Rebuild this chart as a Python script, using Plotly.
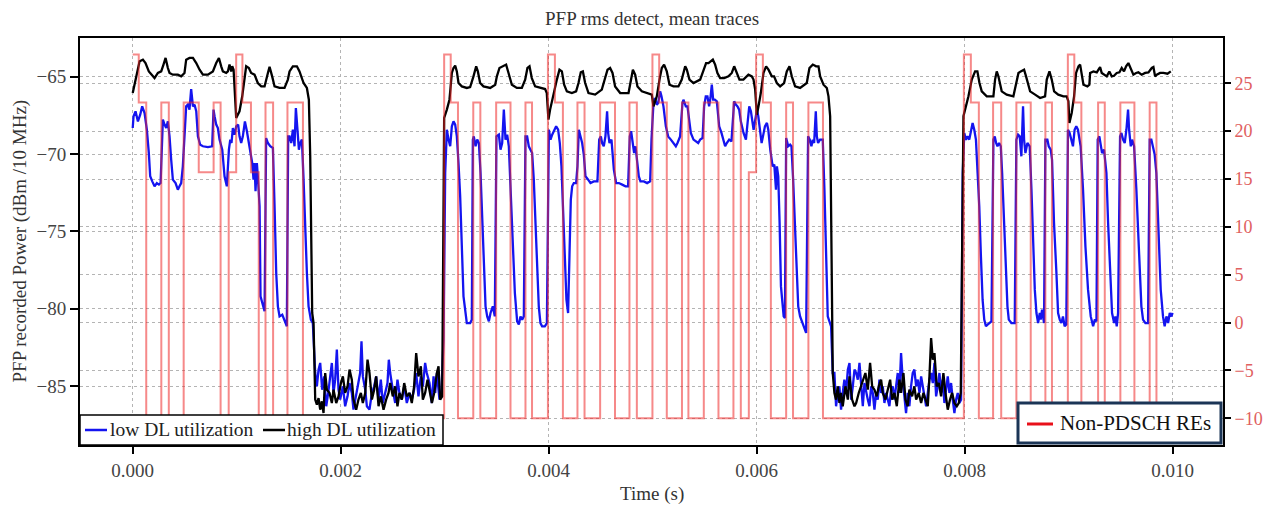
import plotly.graph_objects as go

# Time stamps are in milliseconds, power in dBm / 10 MHz.
low_dl = [
    (0.000, -68.32), (0.008, -67.56), (0.027, -67.24), (0.050, -67.89), (0.072, -67.46), (0.091, -66.92),
    (0.114, -67.35), (0.136, -68.43), (0.155, -69.94), (0.168, -71.44), (0.188, -71.77), (0.210, -72.09),
    (0.232, -71.88), (0.252, -71.98), (0.268, -71.88), (0.280, -68.86), (0.290, -67.78), (0.306, -68.10),
    (0.322, -68.32), (0.338, -67.89), (0.354, -68.86), (0.370, -70.37), (0.386, -71.66), (0.412, -71.88),
    (0.434, -72.31), (0.450, -72.09), (0.466, -71.88), (0.482, -70.80), (0.502, -68.21), (0.514, -66.92),
    (0.530, -66.81), (0.546, -67.13), (0.562, -65.80), (0.579, -66.92), (0.595, -66.81), (0.611, -67.24),
    (0.627, -68.86), (0.649, -69.40), (0.675, -69.50), (0.723, -69.55), (0.764, -69.50), (0.777, -67.13),
    (0.787, -67.56), (0.803, -68.10), (0.819, -68.32), (0.835, -69.07), (0.861, -69.72), (0.883, -71.44),
    (0.905, -72.09), (0.925, -69.72), (0.938, -69.07), (0.950, -69.29), (0.963, -68.32), (0.979, -68.75),
    (0.995, -68.21), (1.014, -68.10), (1.027, -68.86), (1.043, -69.29), (1.059, -68.86), (1.079, -67.89),
    (1.098, -68.53), (1.123, -69.61), (1.149, -70.58), (1.162, -71.66), (1.171, -70.58), (1.181, -72.41),
    (1.194, -70.58), (1.203, -71.44), (1.220, -73.38), (1.229, -79.20), (1.252, -79.85), (1.268, -80.17),
    (1.283, -68.97), (1.300, -69.29), (1.322, -69.50), (1.348, -69.61), (1.364, -73.38), (1.380, -77.69),
    (1.396, -79.85), (1.412, -80.50), (1.438, -80.39), (1.460, -80.71), (1.482, -81.14), (1.495, -68.86),
    (1.508, -68.86), (1.524, -69.29), (1.540, -68.43), (1.556, -69.50), (1.569, -67.03), (1.582, -68.21),
    (1.598, -69.72), (1.611, -69.29), (1.627, -69.07), (1.643, -71.66), (1.659, -75.11), (1.675, -77.69),
    (1.691, -79.85), (1.713, -80.71), (1.732, -80.93), (1.755, -84.16), (1.771, -85.02),
    (1.787, -83.94), (1.803, -83.51), (1.822, -85.24), (1.841, -84.38), (1.861, -86.31), (1.880, -85.45),
    (1.899, -84.16), (1.915, -83.51), (1.931, -85.45), (1.947, -84.59), (1.963, -82.65), (1.979, -85.24),
    (1.995, -85.88), (2.021, -85.02), (2.043, -86.31), (2.066, -85.67), (2.085, -84.81), (2.107, -85.45),
    (2.123, -86.53), (2.149, -85.45), (2.171, -84.59), (2.187, -84.16), (2.200, -82.11), (2.213, -84.38),
    (2.236, -85.24), (2.252, -86.31), (2.277, -86.53), (2.300, -85.45), (2.322, -85.02), (2.341, -84.38),
    (2.364, -85.88), (2.386, -84.59), (2.405, -86.10), (2.428, -85.45), (2.450, -84.81), (2.463, -83.30),
    (2.476, -84.16), (2.501, -85.24), (2.524, -86.10), (2.546, -84.59), (2.565, -85.45), (2.588, -85.88),
    (2.611, -85.02), (2.636, -86.10), (2.662, -85.45), (2.684, -85.88), (2.706, -85.24), (2.726, -84.16),
    (2.748, -85.67), (2.771, -84.38), (2.790, -85.02), (2.812, -83.51), (2.828, -84.16), (2.854, -84.81),
    (2.877, -86.10), (2.893, -84.38), (2.909, -85.45), (2.925, -84.16), (2.950, -85.88), (2.970, -85.24),
    (2.989, -82.00), (3.005, -71.23), (3.021, -68.43), (3.037, -69.07), (3.053, -69.50), (3.069, -68.21),
    (3.085, -67.89), (3.101, -68.10), (3.117, -68.86), (3.133, -70.58), (3.149, -72.74), (3.165, -75.97),
    (3.181, -79.20), (3.213, -80.93), (3.245, -80.93), (3.261, -80.71),
    (3.271, -69.07), (3.280, -68.86), (3.297, -69.50), (3.313, -69.07), (3.329, -69.29), (3.345, -71.23),
    (3.361, -74.46), (3.377, -77.69), (3.393, -79.85), (3.409, -80.50), (3.425, -80.82), (3.441, -80.28),
    (3.463, -79.85), (3.482, -80.50), (3.498, -68.86), (3.521, -68.75), (3.537, -69.72), (3.553, -69.29),
    (3.569, -67.13), (3.585, -69.07), (3.601, -68.75), (3.617, -69.50), (3.633, -72.31), (3.649, -75.54),
    (3.675, -78.99), (3.697, -80.82), (3.713, -81.03), (3.729, -80.50), (3.745, -80.71), (3.761, -80.50),
    (3.777, -68.86), (3.793, -68.86), (3.809, -69.50), (3.825, -69.72), (3.841, -69.94), (3.857, -71.66),
    (3.873, -74.68), (3.889, -77.69), (3.905, -79.85), (3.921, -80.93), (3.937, -81.14), (3.963, -81.14),
    (3.983, -80.93), (4.002, -68.43), (4.018, -69.07), (4.034, -68.75), (4.050, -68.53), (4.072, -68.21),
    (4.091, -68.43), (4.107, -69.29), (4.123, -70.80), (4.139, -73.38), (4.155, -76.62), (4.171, -79.42),
    (4.187, -80.28), (4.200, -75.97), (4.213, -72.95), (4.226, -72.09), (4.242, -71.88), (4.264, -71.88),
    (4.277, -70.80), (4.290, -68.43), (4.306, -68.86), (4.322, -69.29), (4.338, -70.04), (4.354, -71.44),
    (4.380, -71.66), (4.402, -71.88), (4.434, -71.77), (4.469, -71.77), (4.486, -69.07), (4.502, -68.86),
    (4.514, -69.29), (4.530, -69.50), (4.546, -68.86), (4.562, -67.24), (4.572, -68.64), (4.585, -69.29),
    (4.604, -69.07), (4.627, -71.01), (4.649, -71.88), (4.675, -71.88), (4.707, -71.98), (4.739, -72.09),
    (4.764, -72.09), (4.780, -68.86), (4.793, -68.53), (4.806, -69.07), (4.822, -69.94), (4.835, -69.50),
    (4.851, -70.37), (4.867, -71.44), (4.883, -71.77), (4.915, -71.77), (4.947, -71.88), (4.976, -71.77),
    (4.989, -69.07), (5.008, -66.70), (5.021, -66.38), (5.040, -66.81), (5.053, -66.70), (5.072, -65.95),
    (5.085, -66.27), (5.104, -66.92), (5.127, -68.21), (5.149, -68.86), (5.175, -69.07), (5.200, -69.29),
    (5.223, -69.50), (5.239, -69.29), (5.264, -68.86), (5.287, -66.70), (5.296, -66.49), (5.319, -66.92),
    (5.335, -66.92), (5.351, -67.78), (5.367, -68.64), (5.393, -69.07), (5.415, -69.18), (5.438, -69.29),
    (5.457, -69.07), (5.480, -68.97), (5.495, -66.92), (5.511, -66.27), (5.527, -66.27), (5.543, -66.92),
    (5.556, -66.38), (5.569, -65.52), (5.582, -66.49), (5.598, -66.49), (5.617, -66.59), (5.640, -68.21),
    (5.662, -68.64), (5.681, -69.07), (5.697, -69.50), (5.713, -69.29), (5.736, -69.07), (5.758, -69.18),
    (5.784, -66.59), (5.800, -66.81), (5.816, -66.92), (5.832, -67.13), (5.848, -67.89), (5.874, -68.64),
    (5.897, -69.07), (5.913, -67.99), (5.929, -66.92), (5.945, -67.24), (5.962, -67.99), (5.971, -68.43),
    (5.987, -67.78), (6.003, -67.13), (6.016, -67.56), (6.035, -68.43), (6.048, -69.29), (6.061, -68.86),
    (6.080, -68.21), (6.099, -67.99), (6.112, -68.43), (6.131, -69.72), (6.154, -70.80), (6.170, -70.69),
    (6.186, -72.31), (6.195, -70.80), (6.208, -71.44), (6.221, -74.46), (6.234, -78.56), (6.260, -80.50),
    (6.272, -80.60), (6.284, -68.97), (6.304, -69.50), (6.322, -69.40), (6.335, -69.50), (6.351, -71.66),
    (6.377, -75.54), (6.400, -79.85), (6.418, -80.50), (6.441, -80.93), (6.457, -81.14), (6.476, -81.57),
    (6.495, -68.86), (6.511, -69.07), (6.527, -69.50), (6.540, -69.07), (6.553, -69.29), (6.569, -67.24),
    (6.579, -68.86), (6.591, -69.29), (6.610, -69.07), (6.636, -69.07), (6.652, -72.31), (6.668, -76.62),
    (6.684, -80.50), (6.700, -80.82), (6.716, -81.14), (6.732, -84.16),
    (6.748, -84.16), (6.764, -86.31), (6.780, -85.45), (6.796, -85.02), (6.812, -86.53), (6.828, -85.45),
    (6.844, -84.59), (6.860, -85.45), (6.877, -83.94), (6.893, -83.51), (6.909, -85.88), (6.925, -85.02),
    (6.941, -83.94), (6.957, -84.16), (6.973, -84.59), (6.989, -83.51), (7.005, -85.24), (7.021, -86.31),
    (7.037, -84.81), (7.053, -85.45), (7.069, -85.88), (7.085, -86.31), (7.101, -85.02), (7.117, -85.45),
    (7.133, -86.53), (7.149, -85.45), (7.165, -85.88), (7.181, -84.59), (7.197, -85.45), (7.213, -85.02),
    (7.229, -86.10), (7.245, -85.45), (7.261, -85.88), (7.277, -86.31), (7.293, -85.24), (7.309, -85.02),
    (7.325, -85.88), (7.341, -84.81), (7.357, -84.16), (7.373, -85.45), (7.389, -82.87), (7.405, -84.59),
    (7.421, -85.88), (7.437, -86.75), (7.453, -85.45), (7.469, -86.31), (7.485, -85.02), (7.501, -84.16),
    (7.517, -83.94), (7.534, -85.02), (7.550, -84.59), (7.566, -85.45), (7.582, -84.38), (7.598, -85.02),
    (7.614, -85.88), (7.630, -86.31), (7.646, -85.45), (7.662, -84.59), (7.678, -84.16), (7.694, -84.81),
    (7.710, -83.51), (7.726, -85.67), (7.742, -85.02), (7.758, -84.16), (7.774, -85.45), (7.790, -84.59),
    (7.806, -86.10), (7.822, -85.02), (7.838, -84.38), (7.854, -85.45), (7.870, -84.81), (7.886, -85.88),
    (7.902, -86.75), (7.918, -85.88), (7.934, -85.45), (7.950, -86.10), (7.966, -85.88),
    (7.982, -71.23), (7.997, -68.64), (8.013, -69.07), (8.029, -68.86), (8.045, -69.07), (8.061, -68.43),
    (8.077, -67.99), (8.093, -68.43), (8.109, -69.07), (8.125, -71.23), (8.141, -73.38), (8.157, -76.62),
    (8.173, -79.42), (8.189, -80.71), (8.205, -81.14), (8.221, -81.03), (8.237, -80.93), (8.258, -80.82),
    (8.277, -69.07), (8.290, -68.86), (8.303, -69.29), (8.316, -69.50), (8.332, -69.29), (8.348, -69.50),
    (8.361, -71.23), (8.380, -74.46), (8.393, -77.69), (8.412, -79.85), (8.425, -80.71), (8.450, -80.93),
    (8.482, -80.93), (8.498, -69.07), (8.514, -68.75), (8.530, -68.86), (8.546, -70.15), (8.562, -66.92),
    (8.572, -69.07), (8.585, -69.94), (8.604, -69.29), (8.626, -69.50), (8.643, -72.31), (8.659, -75.54),
    (8.675, -78.77), (8.691, -80.28), (8.707, -80.93), (8.723, -80.28), (8.732, -80.71), (8.745, -80.06),
    (8.764, -80.93), (8.777, -69.07), (8.796, -69.07), (8.809, -69.50), (8.828, -69.72), (8.841, -70.37),
    (8.860, -74.46), (8.883, -77.69), (8.899, -80.28), (8.915, -80.71), (8.931, -80.93), (8.946, -80.50),
    (8.962, -81.14), (8.978, -81.03), (8.994, -68.43), (9.010, -68.64), (9.026, -69.07), (9.042, -69.50),
    (9.058, -68.43), (9.074, -68.21), (9.090, -68.43), (9.116, -69.50), (9.139, -72.31), (9.162, -75.97),
    (9.187, -78.77), (9.213, -80.50), (9.236, -81.14), (9.252, -80.71), (9.268, -80.82), (9.280, -69.07),
    (9.296, -68.86), (9.309, -69.50), (9.322, -69.94), (9.341, -69.72), (9.364, -71.23), (9.380, -74.46),
    (9.405, -78.77), (9.418, -80.28), (9.438, -80.93), (9.450, -80.50), (9.463, -81.14), (9.476, -80.28),
    (9.495, -68.86), (9.508, -68.64), (9.524, -69.07), (9.540, -69.29), (9.556, -68.43), (9.572, -67.13),
    (9.582, -68.43), (9.598, -69.50), (9.611, -69.07), (9.630, -69.50), (9.652, -72.31), (9.675, -75.97),
    (9.700, -79.85), (9.716, -80.71), (9.739, -80.93), (9.764, -80.93), (9.780, -69.07), (9.796, -69.07),
    (9.812, -69.50), (9.828, -70.04), (9.844, -71.23), (9.860, -74.46), (9.886, -78.77), (9.908, -80.50),
    (9.924, -81.14), (9.941, -80.50), (9.957, -80.93), (9.973, -80.28), (9.989, -80.50), (10.000, -80.28),
]

high_dl = [
    (0.000, -66.06), (0.066, -64.01), (0.098, -63.90), (0.123, -64.12), (0.155, -64.66), (0.178, -64.87),
    (0.210, -65.09), (0.242, -64.76), (0.274, -64.66), (0.296, -64.22), (0.316, -63.79), (0.338, -64.44),
    (0.354, -64.76), (0.386, -64.87), (0.434, -64.87), (0.466, -64.98), (0.498, -64.76), (0.514, -63.90),
    (0.546, -63.79), (0.579, -63.79), (0.611, -64.12), (0.643, -64.55), (0.675, -64.87), (0.723, -64.87),
    (0.771, -64.66), (0.803, -64.12), (0.829, -63.79), (0.851, -64.33), (0.867, -64.66), (0.899, -64.76),
    (0.915, -64.66), (0.931, -64.22), (0.947, -64.66), (0.957, -64.33), (0.970, -64.55), (0.995, -67.67),
    (1.027, -67.24), (1.053, -66.27), (1.075, -64.98), (1.091, -64.33), (1.117, -64.44), (1.139, -64.76),
    (1.171, -64.87), (1.203, -65.41), (1.236, -65.63), (1.268, -65.63), (1.300, -64.76), (1.316, -64.37),
    (1.341, -64.98), (1.364, -65.63), (1.412, -65.73), (1.460, -65.73), (1.492, -65.19), (1.508, -64.66),
    (1.540, -64.33), (1.579, -64.33), (1.604, -64.66), (1.643, -65.41), (1.675, -65.73), (1.694, -66.49),
    (1.707, -70.15), (1.716, -75.54), (1.726, -80.28), (1.739, -80.93), (1.755, -85.88), (1.771, -86.21),
    (1.787, -85.78), (1.803, -86.53), (1.819, -85.99), (1.835, -86.75), (1.851, -84.16), (1.867, -85.24),
    (1.893, -85.45), (1.915, -86.10), (1.931, -85.24), (1.957, -86.10), (1.979, -85.67), (2.002, -84.81),
    (2.021, -84.38), (2.043, -85.45), (2.066, -85.02), (2.085, -83.94), (2.107, -84.59), (2.123, -85.88),
    (2.149, -86.53), (2.171, -85.88), (2.194, -85.45), (2.213, -86.10), (2.236, -85.45), (2.258, -83.30),
    (2.277, -84.16), (2.300, -85.88), (2.322, -85.24), (2.341, -84.38), (2.364, -86.31), (2.386, -85.67),
    (2.412, -86.53), (2.437, -85.88), (2.460, -85.45), (2.476, -84.81), (2.501, -85.67), (2.524, -85.02),
    (2.546, -86.31), (2.565, -85.45), (2.588, -85.88), (2.611, -84.81), (2.636, -85.67), (2.662, -85.45),
    (2.684, -86.10), (2.706, -85.02), (2.726, -82.87), (2.748, -84.38), (2.771, -83.73), (2.790, -85.88),
    (2.812, -85.45), (2.835, -84.59), (2.854, -85.24), (2.877, -86.10), (2.899, -85.45), (2.925, -84.16),
    (2.941, -83.73), (2.957, -85.88), (2.976, -85.67),
    (2.995, -67.67), (3.021, -67.13), (3.046, -66.49), (3.069, -64.76), (3.085, -64.44), (3.101, -64.29),
    (3.117, -64.66), (3.133, -65.41), (3.165, -65.63), (3.213, -65.73), (3.245, -65.67), (3.277, -64.98),
    (3.303, -64.33), (3.319, -64.66), (3.341, -65.41), (3.373, -65.63), (3.438, -65.73), (3.486, -65.52),
    (3.502, -64.98), (3.527, -64.44), (3.566, -64.29), (3.591, -64.22), (3.614, -64.76), (3.646, -65.52),
    (3.694, -65.73), (3.742, -65.73), (3.774, -65.19), (3.796, -64.44), (3.816, -64.33), (3.838, -65.09),
    (3.870, -65.63), (3.918, -65.73), (3.966, -65.80), (3.982, -66.06), (3.998, -67.78), (4.014, -67.13),
    (4.046, -66.06), (4.079, -65.19), (4.104, -64.55), (4.127, -64.66), (4.149, -65.52), (4.175, -65.95),
    (4.223, -66.06), (4.264, -65.95), (4.287, -65.41), (4.309, -64.72), (4.329, -64.66), (4.351, -65.41),
    (4.383, -66.06), (4.447, -66.16), (4.511, -65.84), (4.543, -64.98), (4.566, -64.55), (4.591, -64.44),
    (4.614, -64.76), (4.639, -65.63), (4.688, -66.06), (4.768, -66.06), (4.790, -65.19), (4.810, -64.55),
    (4.832, -64.87), (4.854, -65.63), (4.896, -65.95), (4.944, -66.06), (4.992, -66.16), (5.008, -66.92),
    (5.040, -66.27), (5.066, -65.19), (5.088, -64.44), (5.110, -64.22), (5.136, -64.66), (5.162, -65.52),
    (5.200, -65.63), (5.248, -65.63), (5.280, -65.19), (5.313, -64.33), (5.329, -64.55), (5.354, -65.19),
    (5.393, -65.41), (5.457, -65.19), (5.489, -64.66), (5.514, -64.12), (5.537, -64.12), (5.559, -64.01),
    (5.579, -63.90), (5.601, -64.22), (5.623, -64.76), (5.649, -65.09), (5.688, -65.09), (5.729, -64.98),
    (5.761, -64.76), (5.784, -64.33), (5.803, -64.66), (5.835, -65.19), (5.873, -65.19), (5.921, -64.87),
    (5.954, -64.98), (5.970, -65.19), (5.986, -65.84), (6.002, -67.46), (6.018, -66.92), (6.040, -66.06),
    (6.066, -64.76), (6.091, -64.33), (6.114, -64.55), (6.146, -64.98), (6.168, -64.98), (6.194, -65.41),
    (6.226, -65.63), (6.264, -65.41), (6.290, -64.66), (6.316, -64.33), (6.338, -64.98), (6.370, -65.63),
    (6.418, -65.73), (6.482, -65.41), (6.508, -64.44), (6.540, -64.22), (6.572, -64.33), (6.595, -64.33),
    (6.611, -64.98), (6.643, -65.52), (6.675, -65.73), (6.691, -66.27), (6.707, -67.56), (6.716, -75.54),
    (6.726, -81.14), (6.732, -84.16), (6.748, -85.45), (6.764, -85.88), (6.780, -85.02), (6.796, -86.10),
    (6.812, -85.45), (6.828, -86.31), (6.854, -85.02), (6.877, -85.88), (6.893, -84.38), (6.918, -85.88),
    (6.941, -86.31), (6.957, -86.10), (6.982, -85.45), (7.005, -85.02), (7.027, -84.59), (7.046, -84.16),
    (7.069, -85.24), (7.091, -83.51), (7.111, -85.02), (7.133, -85.24), (7.155, -85.67), (7.175, -85.02),
    (7.197, -84.59), (7.213, -85.45), (7.239, -85.88), (7.261, -85.24), (7.284, -84.59), (7.303, -85.88),
    (7.325, -85.45), (7.348, -86.31), (7.373, -84.59), (7.389, -85.45), (7.412, -84.16), (7.431, -85.88),
    (7.453, -86.31), (7.469, -85.24), (7.495, -85.67), (7.517, -85.02), (7.534, -85.88), (7.559, -85.45),
    (7.582, -86.10), (7.604, -85.45), (7.623, -85.88), (7.646, -86.31), (7.662, -84.38), (7.678, -81.90),
    (7.694, -83.30), (7.710, -82.87), (7.732, -85.02), (7.752, -84.81), (7.774, -85.67), (7.796, -84.16),
    (7.816, -85.45), (7.838, -86.53), (7.860, -85.88), (7.880, -85.45), (7.902, -86.10), (7.925, -86.31),
    (7.944, -86.10), (7.963, -85.45),
    (7.989, -67.56), (8.005, -67.13), (8.037, -66.27), (8.069, -65.19), (8.101, -64.66), (8.123, -64.66),
    (8.143, -65.41), (8.165, -65.95), (8.213, -66.27), (8.277, -66.27), (8.293, -65.19), (8.309, -64.66),
    (8.325, -64.98), (8.357, -65.95), (8.405, -66.16), (8.469, -66.27), (8.502, -65.19), (8.518, -64.76),
    (8.540, -64.66), (8.572, -64.55), (8.591, -64.98), (8.630, -65.95), (8.678, -66.16), (8.726, -66.38),
    (8.774, -66.27), (8.790, -65.19), (8.816, -64.66), (8.838, -65.19), (8.861, -65.95), (8.901, -66.16),
    (8.950, -66.27), (8.982, -66.27), (8.998, -66.59), (9.008, -67.99), (9.030, -67.35), (9.053, -66.27),
    (9.072, -64.76), (9.095, -64.33), (9.111, -64.22), (9.127, -64.76), (9.143, -65.52), (9.181, -65.63),
    (9.200, -65.52), (9.207, -64.76), (9.239, -64.66), (9.271, -64.72), (9.303, -64.38), (9.319, -64.76),
    (9.341, -64.87), (9.367, -64.98), (9.392, -64.66), (9.415, -64.98), (9.437, -64.94), (9.463, -64.76),
    (9.489, -64.72), (9.511, -64.44), (9.533, -64.66), (9.553, -64.33), (9.575, -64.12), (9.598, -64.44),
    (9.623, -64.87), (9.649, -64.76), (9.671, -64.72), (9.703, -64.87), (9.736, -64.76), (9.768, -64.72),
    (9.800, -64.44), (9.816, -64.38), (9.832, -64.98), (9.848, -64.87), (9.880, -64.76), (9.912, -64.76),
    (9.951, -64.81), (9.983, -64.66),
]

# Non-PDSCH resource elements: each entry holds until the next time stamp.
non_pdsch = [
    (0.000, 28), (0.058, 23), (0.130, -10), (0.275, 23), (0.347, -10), (0.490, 23), (0.635, 15.7),
    (0.778, 23), (0.845, -10), (0.923, 15.7), (0.995, 28), (1.055, 23), (1.137, 15.7), (1.212, -10),
    (1.277, 23), (1.350, -10), (1.488, 23), (1.637, -10),
    (2.995, 28), (3.058, 23), (3.128, -10), (3.275, 23), (3.343, -10), (3.495, 23), (3.633, -10),
    (3.777, 23), (3.840, -10), (3.993, 28), (4.060, 23), (4.137, -10), (4.277, 23), (4.345, -10),
    (4.495, 23), (4.638, -10), (4.777, 23), (4.848, -10), (4.998, 28), (5.063, 23), (5.136, -10),
    (5.282, 23), (5.344, -10), (5.492, 23), (5.633, -10), (5.777, 23), (5.848, -10), (5.925, 15.7),
    (5.995, 28), (6.060, 23), (6.137, -10), (6.284, 23), (6.350, -10), (6.498, 23), (6.638, -10),
    (7.993, 28), (8.060, 23), (8.137, -10), (8.274, 23), (8.352, -10), (8.498, 23), (8.636, -10),
    (8.777, 23), (8.840, -10), (8.993, 28), (9.055, 23), (9.123, -10), (9.284, 23), (9.348, -10),
    (9.498, 23), (9.633, -10), (9.780, 23), (9.845, -10), (10.000, -10),
]

x_ticks = [0.000, 0.002, 0.004, 0.006, 0.008, 0.010]
power_ticks = [-85, -80, -75, -70, -65]
re_ticks = [-10, -5, 0, 5, 10, 15, 20, 25]

FONT = "Liberation Serif, Times New Roman, serif"
MS = 1e-3
BLUE = "#1414f0"
RE_LINE = "rgba(238,40,40,0.55)"

# plot-area size in pixels, used to place the legend boxes
W, H = 1263, 507
ML, MR, MT, MB = 80, 40, 38, 62
PW, PH = W - ML - MR, H - MT - MB


def px_x(px):
    return (px - ML) / PW


def px_y(py):
    return (H - MB - py) / PH


def split(pairs):
    return [t * MS for t, _ in pairs], [v for _, v in pairs]


fig = go.Figure()

lx, ly = split(low_dl)
hx, hy = split(high_dl)
rx, ry = split(non_pdsch)

fig.add_trace(go.Scatter(x=lx, y=ly, mode="lines", name="low DL utilization",
                         line=dict(color=BLUE, width=2.3), showlegend=False))
fig.add_trace(go.Scatter(x=hx, y=hy, mode="lines", name="high DL utilization",
                         line=dict(color="black", width=2.3), showlegend=False))
fig.add_trace(go.Scatter(x=rx, y=ry, mode="lines", yaxis="y2", line_shape="hv",
                         name="Non-PDSCH REs", line=dict(color=RE_LINE, width=2),
                         showlegend=False))

grid = dict(showgrid=True, gridcolor="#b4b4b4", gridwidth=1, griddash="dot",
            zeroline=False, automargin=False)

# Legend boxes drawn inside the plot area
shapes = [
    dict(type="rect", xref="paper", yref="paper", x0=0, x1=px_x(443), y0=0, y1=px_y(415),
         fillcolor="white", line=dict(color="black", width=1.5), layer="above"),
    dict(type="line", xref="paper", yref="paper", x0=px_x(85), x1=px_x(107), y0=px_y(430), y1=px_y(430),
         line=dict(color=BLUE, width=2.5), layer="above"),
    dict(type="line", xref="paper", yref="paper", x0=px_x(263), x1=px_x(285), y0=px_y(430), y1=px_y(430),
         line=dict(color="black", width=2.5), layer="above"),
    dict(type="rect", xref="paper", yref="paper", x0=px_x(1018), x1=px_x(1221), y0=px_y(443), y1=px_y(403),
         fillcolor="white", line=dict(color="#1b3556", width=3), layer="above"),
    dict(type="line", xref="paper", yref="paper", x0=px_x(1027), x1=px_x(1053), y0=px_y(424), y1=px_y(424),
         line=dict(color="#e8101a", width=3), layer="above"),
]

annotations = [
    dict(text="PFP rms detect, mean traces", xref="paper", yref="paper", x=0.5, y=1,
         xanchor="center", yanchor="middle", yshift=20, showarrow=False,
         font=dict(family=FONT, size=19, color="#333333")),
    dict(text="Time (s)", xref="paper", yref="paper", x=0.5, y=0,
         xanchor="center", yanchor="middle", yshift=-49, showarrow=False,
         font=dict(family=FONT, size=19, color="#333333")),
    dict(text="PFP recorded Power (dBm /10 MHz)", xref="paper", yref="paper", x=0, y=0.5,
         xanchor="center", yanchor="middle", xshift=-61, textangle=-90, showarrow=False,
         font=dict(family=FONT, size=19, color="#333333")),
    dict(text="low DL utilization", xref="paper", yref="paper", x=px_x(108), y=px_y(429),
         xanchor="left", yanchor="middle", showarrow=False,
         font=dict(family=FONT, size=19.5, color="#222222")),
    dict(text="high DL utilization", xref="paper", yref="paper", x=px_x(285), y=px_y(429),
         xanchor="left", yanchor="middle", showarrow=False,
         font=dict(family=FONT, size=19.5, color="#222222")),
    dict(text="Non-PDSCH REs", xref="paper", yref="paper", x=px_x(1058), y=px_y(423),
         xanchor="left", yanchor="middle", showarrow=False,
         font=dict(family=FONT, size=21, color="#111111")),
]

fig.update_layout(
    width=W, height=H,
    margin=dict(l=ML, r=MR, t=MT, b=MB),
    paper_bgcolor="white", plot_bgcolor="white",
    font=dict(family=FONT, size=19, color="#333333"),
    xaxis=dict(range=[-0.000507, 0.010485], tickvals=x_ticks, tickformat=".3f",
               showline=True, linecolor="black", linewidth=2, mirror=True,
               ticks="outside", ticklen=7, tickwidth=2, tickcolor="black",
               tickfont=dict(size=19, color="#444444"), **grid),
    yaxis=dict(range=[-88.815, -62.50], tickvals=power_ticks,
               showline=True, linecolor="black", linewidth=2, mirror=True,
               ticks="outside", ticklen=8, tickwidth=2, tickcolor="black",
               tickfont=dict(size=19, color="#444444"), **grid),
    yaxis2=dict(range=[-12.79, 29.73], tickvals=re_ticks, overlaying="y", side="right",
                showline=True, linecolor="black", linewidth=2,
                ticks="outside", ticklen=6, tickwidth=2, tickcolor="black",
                tickfont=dict(size=18, color="#e06060"), **grid),
    shapes=shapes,
    annotations=annotations,
    showlegend=False,
)

fig.write_html("out.html")
